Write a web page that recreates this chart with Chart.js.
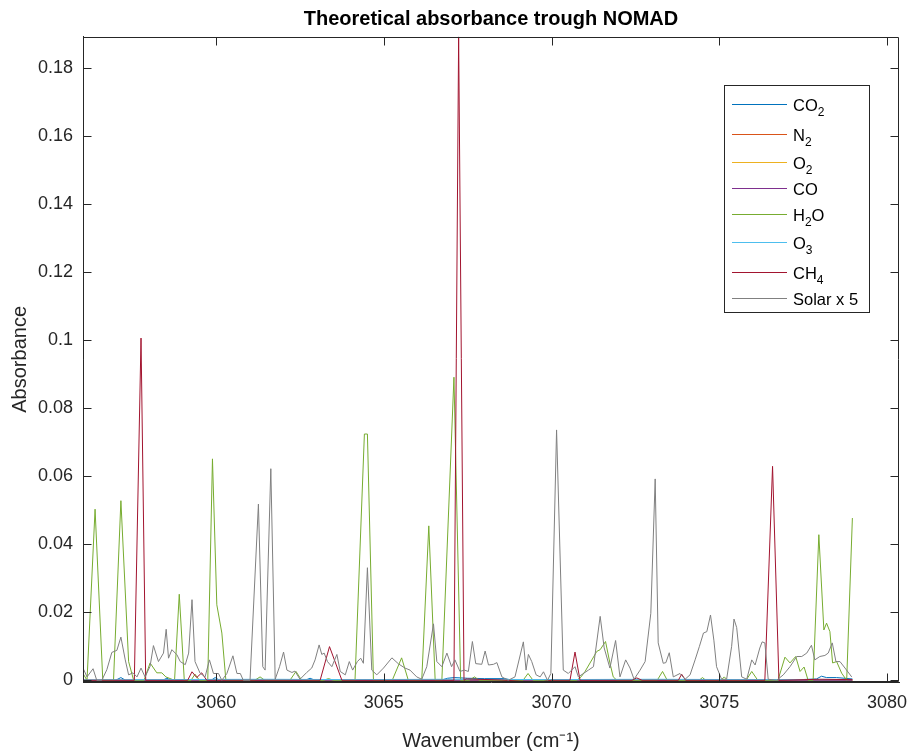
<!DOCTYPE html>
<html><head><meta charset="utf-8">
<script src="https://cdn.jsdelivr.net/npm/chart.js@4.4.1/dist/chart.umd.min.js"></script>
<style>html,body{margin:0;padding:0;background:#fff}</style>
</head><body>
<canvas id="c" width="910" height="753"></canvas>
<script>
// ---------- data ----------
const seriesNames = ['CO₂', 'N₂', 'O₂', 'CO', 'H₂O', 'O₃', 'CH₄', 'Solar x 5'];
const seriesColors = ['#0072BD', '#D95319', '#EDB120', '#7E2F8E', '#77AC30', '#4DBEEE', '#A2142F', '#808080'];

const xTickValues = [3060, 3065, 3070, 3075, 3080];
const xTickLabels = ['3060', '3065', '3070', '3075', '3080'];
const yTickValues = [0, 0.02, 0.04, 0.06, 0.08, 0.1, 0.12, 0.14, 0.16, 0.18];
const yTickLabels = ['0', '0.02', '0.04', '0.06', '0.08', '0.1', '0.12', '0.14', '0.16', '0.18'];

const co2X = [3056.03, 3057.0, 3057.16, 3057.3, 3058.4, 3058.53, 3058.65, 3059.85, 3059.97, 3060.1, 3062.65, 3062.8, 3062.95, 3066.7, 3066.9, 3067.1, 3067.3, 3067.5, 3068.0, 3068.6, 3068.8, 3077.2, 3077.9, 3078.05, 3078.2, 3078.5, 3078.97];
const co2Y = [0, 0, 0.0008, 0, 0, 0.0006, 0, 0, 0.0008, 0, 0, 0.0006, 0, 0, 0.0006, 0.0008, 0.0007, 0.0006, 0.0005, 0.0005, 0.0001, 0.0001, 0.0004, 0.0012, 0.0008, 0.0008, 0.0004];

const n2X = [3056.03, 3078.97];
const n2Y = [0, 0];
const o2X = [3056.03, 3078.97];
const o2Y = [0, 0];
const coX = [3056.03, 3078.97];
const coY = [0, 0];

const h2oX = [3056.03, 3056.15, 3056.39, 3056.62, 3056.94, 3057.16, 3057.39, 3057.54, 3057.85, 3058.03, 3058.23, 3058.38, 3058.50, 3058.76, 3058.90, 3059.05, 3059.25, 3059.37, 3059.50, 3059.75, 3059.89, 3060.02, 3060.17, 3060.29, 3061.15, 3061.31, 3061.45, 3062.20, 3062.38, 3062.55, 3063.2, 3063.35, 3063.5, 3064.14, 3064.42, 3064.51, 3064.69, 3065.25, 3065.53, 3065.73, 3066.13, 3066.34, 3066.53, 3066.73, 3067.09, 3067.29, 3067.55, 3067.7, 3067.85, 3069.15, 3069.3, 3069.45, 3070.75, 3070.88, 3071.00, 3071.35, 3071.45, 3071.61, 3071.74, 3071.84, 3071.95, 3073.15, 3073.31, 3073.45, 3074.4, 3074.5, 3074.6, 3075.05, 3075.15, 3075.25, 3075.8, 3075.97, 3076.15, 3076.75, 3076.96, 3077.11, 3077.28, 3077.41, 3077.53, 3077.65, 3077.80, 3077.97, 3078.12, 3078.20, 3078.30, 3078.38, 3078.50, 3078.65, 3078.80, 3078.97];
const h2oY = [0.002, 0, 0.0503, 0, 0, 0.0528, 0.0055, 0, 0, 0.0051, 0.0022, 0.0022, 0.001, 0, 0.0253, 0, 0, 0.0018, 0, 0, 0.0651, 0.0222, 0.0139, 0, 0, 0.001, 0, 0, 0.0026, 0, 0, 0.0005, 0, 0, 0.0724, 0.0724, 0, 0, 0.0066, 0, 0, 0.0454, 0, 0, 0.0891, 0, 0, 0.001, 0, 0, 0.002, 0, 0, 0.001, 0.0026, 0.0085, 0.009, 0.0114, 0.0051, 0.001, 0, 0, 0.0026, 0, 0, 0.0008, 0, 0, 0.001, 0, 0, 0.0026, 0, 0, 0.0068, 0.0051, 0.0070, 0.0026, 0.0039, 0, 0, 0.0428, 0.0148, 0.0168, 0.0143, 0.0051, 0.0055, 0.0021, 0, 0.0477];

const o3X = [3056.03, 3058.0, 3061.5, 3064.0, 3067.0, 3070.0, 3073.0, 3076.0, 3078.97];
const o3Y = [0.0001, 0.0002, 0.0003, 0.0002, 0.0003, 0.0002, 0.0003, 0.0002, 0.0002];

const ch4X = [3056.03, 3057.56, 3057.76, 3057.90, 3059.15, 3059.28, 3059.42, 3059.57, 3059.72, 3063.10, 3063.38, 3063.75, 3067.09, 3067.23, 3067.39, 3067.45, 3068.5, 3069.26, 3069.66, 3070.0, 3070.55, 3070.70, 3070.85, 3072.4, 3072.54, 3072.7, 3073.78, 3073.88, 3074.0, 3076.36, 3076.59, 3076.78, 3078.0, 3078.97];
const ch4Y = [0, 0, 0.1006, 0, 0, 0.0025, 0.0008, 0.0022, 0, 0, 0.0099, 0, 0, 0.1892, 0, 0.0004, 0.0001, -0.0004, -0.0005, 0, 0, 0.0083, 0, 0, 0.0007, 0, 0, 0.0018, 0, 0, 0.0629, 0, 0.0003, 0.0002];

const solarX = [3056.03, 3056.15, 3056.33, 3056.44, 3056.59, 3056.74, 3056.89, 3057.04, 3057.16, 3057.29, 3057.39, 3057.52, 3057.64, 3057.76, 3057.88, 3058.03, 3058.13, 3058.28, 3058.43, 3058.51, 3058.58, 3058.68, 3058.83, 3058.93, 3059.08, 3059.18, 3059.28, 3059.37, 3059.52, 3059.67, 3059.80, 3059.92, 3060.07, 3060.17, 3060.32, 3060.50, 3060.62, 3060.72, 3060.81, 3061.01, 3061.26, 3061.39, 3061.46, 3061.63, 3061.76, 3061.89, 3062.01, 3062.11, 3062.26, 3062.35, 3062.50, 3062.70, 3062.85, 3062.95, 3063.07, 3063.15, 3063.22, 3063.32, 3063.45, 3063.60, 3063.70, 3063.85, 3063.97, 3064.07, 3064.21, 3064.31, 3064.39, 3064.51, 3064.64, 3064.79, 3064.99, 3065.24, 3065.44, 3065.63, 3065.78, 3065.98, 3066.13, 3066.28, 3066.48, 3066.58, 3066.73, 3066.88, 3067.02, 3067.12, 3067.27, 3067.40, 3067.52, 3067.64, 3067.74, 3067.92, 3068.02, 3068.12, 3068.27, 3068.37, 3068.52, 3068.71, 3068.91, 3069.16, 3069.24, 3069.31, 3069.41, 3069.54, 3069.66, 3069.76, 3069.88, 3069.98, 3070.15, 3070.35, 3070.50, 3070.70, 3070.80, 3070.95, 3071.10, 3071.25, 3071.45, 3071.57, 3071.74, 3071.91, 3072.04, 3072.21, 3072.34, 3072.46, 3072.64, 3072.79, 3072.96, 3073.09, 3073.18, 3073.33, 3073.41, 3073.51, 3073.63, 3073.83, 3073.98, 3074.13, 3074.28, 3074.41, 3074.53, 3074.63, 3074.74, 3074.84, 3074.92, 3075.07, 3075.22, 3075.37, 3075.44, 3075.52, 3075.67, 3075.82, 3075.97, 3076.07, 3076.21, 3076.28, 3076.36, 3076.46, 3076.71, 3076.91, 3077.11, 3077.31, 3077.46, 3077.61, 3077.75, 3077.85, 3078.00, 3078.15, 3078.25, 3078.37, 3078.48, 3078.60, 3078.75, 3078.95];
const solarY = [0.0036, 0.001, 0.0034, 0, 0, 0.0031, 0.0082, 0.0088, 0.0127, 0.006, 0.0016, 0.0022, 0.001, 0.0036, 0.001, 0.0041, 0.0102, 0.0055, 0.008, 0.015, 0.0065, 0.009, 0.0075, 0.0055, 0.0046, 0.008, 0.0237, 0.0055, 0.0021, 0.001, 0.006, 0.002, 0.002, 0, 0.002, 0.0072, 0.002, 0.002, 0, 0, 0.0518, 0.004, 0.003, 0.0622, 0.0003, 0.004, 0.0083, 0.003, 0.0023, 0.0027, 0.0003, 0.0023, 0.0036, 0.006, 0.0104, 0.0076, 0.008, 0.0055, 0.004, 0.0076, 0.0026, 0.0016, 0.0055, 0.003, 0.0055, 0.0065, 0.005, 0.0331, 0.003, 0.0016, 0.0036, 0.0066, 0.0048, 0.0036, 0.003, 0.001, 0.0003, 0.004, 0.0166, 0.0055, 0.004, 0.008, 0.004, 0.006, 0.0026, 0.003, 0.0026, 0.0114, 0.0049, 0.0047, 0.0086, 0.0045, 0.0047, 0.0052, 0.001, 0, 0.001, 0.0113, 0.003, 0.0076, 0.0055, 0.0016, 0.001, 0.0025, 0, 0.002, 0.0736, 0.003, 0.002, 0.004, 0.001, 0.002, 0.003, 0.004, 0.0188, 0.0095, 0.0036, 0.0117, 0.001, 0.006, 0.0036, 0.0003, 0.003, 0.0055, 0.0197, 0.0592, 0.011, 0.005, 0.0052, 0.0081, 0.001, 0.002, 0.0003, 0.0016, 0.006, 0.01, 0.0139, 0.0143, 0.0192, 0.0118, 0.004, 0.0003, 0.0003, 0.01, 0.018, 0.0155, 0.001, 0.0003, 0.006, 0.0045, 0.0095, 0.0113, 0.011, 0.0003, 0, 0.0016, 0.004, 0.007, 0.007, 0.008, 0.0103, 0.006, 0.007, 0.0073, 0.008, 0.011, 0.0055, 0.0055, 0.0036, 0.001];

const seriesX = [co2X, n2X, o2X, coX, h2oX, o3X, ch4X, solarX];
const seriesY = [co2Y, n2Y, o2Y, coY, h2oY, o3Y, ch4Y, solarY];

// ---------- styling ----------
const FONT = "'Liberation Sans', Arial, Helvetica, sans-serif";
const AX = '#262626';

const datasets = seriesNames.map((name, i) => ({
  label: name,
  data: seriesX[i].map((x, k) => ({ x: x, y: seriesY[i][k] })),
  borderColor: seriesColors[i],
  backgroundColor: seriesColors[i],
  borderWidth: 1,
  pointRadius: 0,
  tension: 0,
  fill: false,
  order: seriesNames.length - 1 - i
}));

function drawRich(ctx, text, x, y, size) {
  const subMap = { '₀': '0', '₁': '1', '₂': '2', '₃': '3', '₄': '4', '₅': '5', '₆': '6', '₇': '7', '₈': '8', '₉': '9' };
  let cx = x;
  for (const ch of text) {
    if (subMap[ch]) {
      ctx.font = Math.round(size * 0.75) + 'px ' + FONT;
      ctx.fillText(subMap[ch], cx, y + size * 0.33);
      cx += ctx.measureText(subMap[ch]).width;
    } else {
      ctx.font = size + 'px ' + FONT;
      ctx.fillText(ch, cx, y);
      cx += ctx.measureText(ch).width;
    }
  }
}

// legend row offsets (px from legend box top), taller rows for subscripted names
const legendRowOffsets = [19, 49, 77, 103, 129, 157, 187, 213];

const framePlugin = {
  id: 'frame',
  afterDraw(chart) {
    const { ctx, chartArea: a, scales } = chart;
    const x = scales.x, y = scales.y;
    ctx.save();
    ctx.strokeStyle = AX;
    ctx.lineWidth = 1;
    const L = Math.round(a.left) + 0.5, R = Math.round(a.right) - 0.5;
    const T = Math.round(a.top) + 0.5, B = Math.round(a.bottom) - 0.5;
    ctx.beginPath();
    ctx.moveTo(L, T); ctx.lineTo(R, T); ctx.lineTo(R, B); ctx.lineTo(L, B); ctx.closePath();
    const tl = 8;
    xTickValues.forEach(v => {
      const px = Math.round(x.getPixelForValue(v)) + 0.5;
      ctx.moveTo(px, B); ctx.lineTo(px, B - tl);
      ctx.moveTo(px, T); ctx.lineTo(px, T + tl);
    });
    yTickValues.forEach(v => {
      const py = Math.round(y.getPixelForValue(v)) + 0.5;
      ctx.moveTo(L, py); ctx.lineTo(L + tl, py);
      ctx.moveTo(R, py); ctx.lineTo(R - tl, py);
    });
    ctx.stroke();

    // legend
    const bx = Math.round(a.right - 175), by = 85, bw = 145, bh = 227;
    ctx.fillStyle = '#ffffff';
    ctx.fillRect(bx, by, bw, bh);
    ctx.strokeStyle = AX;
    ctx.lineWidth = 1;
    ctx.strokeRect(bx + 0.5, by + 0.5, bw, bh);
    for (let i = 0; i < seriesNames.length; i++) {
      const ry = by + legendRowOffsets[i];
      ctx.fillStyle = seriesColors[i];
      ctx.fillRect(bx + 8, ry, 55, 1);
      ctx.fillStyle = '#000000';
      ctx.textBaseline = 'alphabetic';
      ctx.textAlign = 'left';
      drawRich(ctx, seriesNames[i], bx + 69, ry + 6.5, 16.5);
    }
    ctx.restore();
  }
};

new Chart(document.getElementById('c'), {
  type: 'line',
  data: { datasets: datasets },
  plugins: [framePlugin],
  options: {
    responsive: false,
    animation: false,
    devicePixelRatio: 1,
    layout: { padding: { left: 0, right: 11, top: 0, bottom: 0 } },
    plugins: {
      legend: { display: false },
      tooltip: { enabled: false },
      title: {
        display: true,
        fullSize: false,
        text: 'Theoretical absorbance trough NOMAD',
        color: '#000000',
        font: { family: FONT, size: 20, weight: 'bold' },
        padding: { top: 7, bottom: 5.7 }
      }
    },
    scales: {
      x: {
        type: 'linear',
        min: 3056.03,
        max: 3080.36,
        grid: { display: false, drawTicks: false },
        border: { display: true, color: AX, width: 1 },
        afterBuildTicks: s => { s.ticks = xTickValues.map(v => ({ value: v })); },
        afterFit: s => { s.height = 71; s.paddingLeft = 0; s.paddingRight = 0; },
        ticks: {
          autoSkip: false, maxRotation: 0, padding: 10,
          color: AX, font: { family: FONT, size: 18 },
          callback: (v, i) => xTickLabels[i]
        },
        title: {
          display: true, text: 'Wavenumber (cm⁻¹)', color: AX,
          font: { family: FONT, size: 20 }, padding: { top: 4, bottom: 0 }
        }
      },
      y: {
        type: 'linear',
        min: -0.0005,
        max: 0.1892,
        grid: { display: false, drawTicks: false },
        border: { display: true, color: AX, width: 1 },
        afterBuildTicks: s => { s.ticks = yTickValues.map(v => ({ value: v })); },
        afterFit: s => { s.width = 83; s.paddingTop = 0; s.paddingBottom = 0; },
        ticks: {
          autoSkip: false, padding: 10,
          color: AX, font: { family: FONT, size: 18 },
          callback: (v, i) => yTickLabels[i]
        },
        title: {
          display: true, text: 'Absorbance', color: AX,
          font: { family: FONT, size: 20 }, padding: { top: 8, bottom: 0 }
        }
      }
    }
  }
});
</script>
</body></html>
